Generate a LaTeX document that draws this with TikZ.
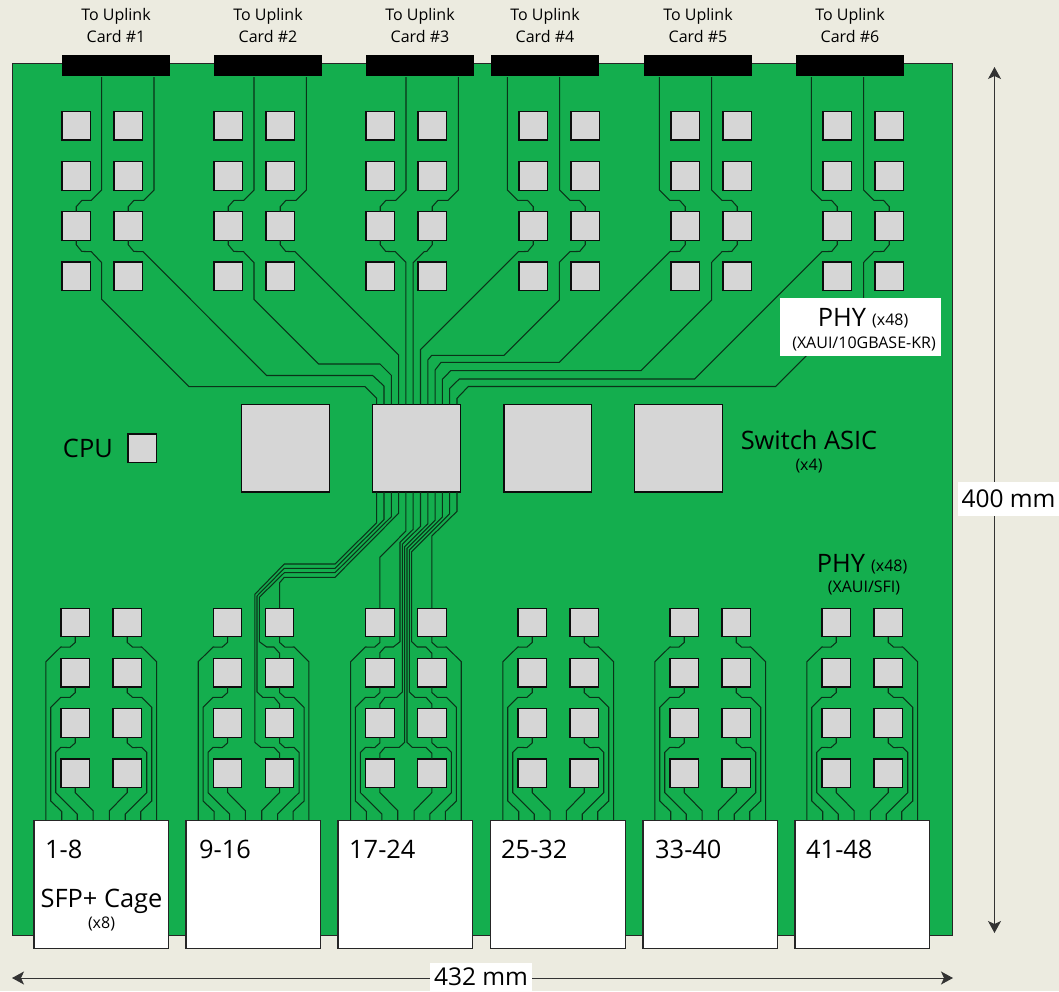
\documentclass[tikz,border=0pt]{standalone}
\usepackage{xcolor}
\usepackage{fontspec}
\setmainfont{Open Sans}
\usetikzlibrary{arrows.meta, positioning}
\definecolor{pagebg}{HTML}{ECEBE0}
\definecolor{pcbgreen}{HTML}{14AE4E}
\definecolor{chipgrey}{HTML}{D6D6D6}
\definecolor{tracedark}{HTML}{0A3319}
\tikzset{
    board/.style={draw=black!85, line width=1.2pt, fill=pcbgreen, anchor=north west, inner sep=0pt,
        minimum width=940pt, minimum height=872pt},
    phy chip/.style={draw=black!95, line width=1.35pt, fill=chipgrey, anchor=north west, inner sep=0pt,
        outer sep=0pt, minimum width=28.5pt, minimum height=28.5pt},
    asic chip/.style={phy chip, minimum width=87.5pt, minimum height=87.5pt},
    uplink bar/.style={fill=black, anchor=north west, inner sep=0pt, outer sep=0pt,
        minimum width=108pt, minimum height=21pt},
    cage/.style={draw=black!85, line width=1.2pt, fill=white, anchor=north west, inner sep=0pt,
        outer sep=0pt, minimum width=134.8pt, minimum height=127.6pt},
    trace/.style={draw=tracedark, line width=1.05pt},
    big text/.style={font=\fontsize{25.4}{30}\selectfont, inner sep=0pt},
    card text/.style={font=\fontsize{16}{22}\selectfont, align=center, inner sep=0pt},
    small text/.style={font=\fontsize{16}{19}\selectfont, inner sep=0pt},
    dim arrow/.style={draw=black!80, line width=1pt, {Stealth[length=12pt,width=13pt,inset=3pt]}-{Stealth[length=12pt,width=13pt,inset=3pt]}},
    dim label/.style={font=\fontsize{24.5}{28}\selectfont, fill=white, inner xsep=0pt, inner ysep=0pt},
}
\begin{document}
\begin{tikzpicture}[x=1pt, y=-1pt]
    \useasboundingbox (0,0) rectangle (1059,991);
    \fill[pagebg] (0,0) rectangle (1059,991);
    \node[board] (board) at (12,63) {};

    \foreach \grp/\barx/\gx in {1/62/62, 2/214/214, 3/366/366, 4/491/519, 5/644/671, 6/796/823}{
        \node[uplink bar] (up\grp) at (\barx,55) {};
        \node[card text] (uplab\grp) at (\barx+54,25) {To Uplink\\Card \#\grp};
        \foreach \col/\dx in {a/0, b/52}{
            \foreach \row/\ry in {1/111.5, 2/161.7, 3/211.7, 4/262}{
                \node[phy chip] (phyu\grp\col\row) at (\gx+\dx,\ry) {};
            }
        }
    }
    \foreach \grp/\gx/\cagex/\lab/\labx in {1/61/34/1-8/45, 2/213.3/186/9-16/199, 3/365.7/338/17-24/349,
        4/518/490.5/25-32/501, 5/670/643/33-40/655, 6/822/795/41-48/806}{
        \foreach \col/\dx in {a/0, b/52}{
            \foreach \row/\ry in {1/608.3, 2/658.5, 3/708.8, 4/759}{
                \node[phy chip] (phyd\grp\col\row) at (\gx+\dx,\ry) {};
            }
        }
        \node[cage] (cage\grp) at (\cagex,820.7) {};
        \node[big text, anchor=west] (cagelab\grp) at (\labx,849) {\lab};
    }
    \node[asic chip] (asica) at (241.7,404.5) {};
    \node[asic chip] (asicb) at (372.7,404.5) {};
    \node[asic chip] (asicc) at (504,404.5) {};
    \node[asic chip] (asicd) at (634.7,404.5) {};
    \node[phy chip] (cpu) at (128,434) {};
    \node[big text, left=15pt of cpu] (cpulab) {CPU};

    \foreach \i in {1,...,12}{
        \path (asicb.north west) ++({\i*7.3-3.3},0) coordinate (n\i);
        \path (asicb.south west) ++({\i*7.3-3.3},0) coordinate (s\i);
    }

    \foreach \grp/\gx/\off/\jog in {1/62/39.7/1, 2/214/40/1, 3/366/40/1, 4/519/16.3/-1, 5/671/15.3/-1, 6/823/15.3/-1}{
        \foreach \col/\dx in {a/0, b/52}{
            \draw[trace] (up\grp.south west) ++({\off+\dx*1.006},1) -- ++(0,113) -- ++({-\jog*10.3},10.3)
                -- ({\gx+\dx+14.25+\jog*5.7},200.3) -- ++({-\jog*5.7},6.4) -- (phyu\grp\col3.north);
        }
    }

    \draw[trace] (phyu1a3.south) -- ++(0,4.5) -- ++(5.5,6.7) -- (91.3,251.7) -- (101.7,262.7) -- (101.7,299.3)
        -- (189,386.7) -- (365,386.7) -- (376.7,398.3) -- (n1);
    \draw[trace] (phyu1b3.south) -- ++(0,4.5) -- ++(5.5,6.7) -- (143,251.7) -- (266.7,375.5) -- (372.7,375.5)
        -- (384,386) -- (n2);
    \draw[trace] (phyu2a3.south) -- ++(0,4.5) -- ++(5.5,6.7) -- (243.5,251.7) -- (254,262.7) -- (254,299.3)
        -- (318.7,364) -- (380,364) -- (391.3,375.3) -- (n3);
    \draw[trace] (phyu2b3.south) -- ++(0,4.5) -- ++(5.5,6.7) -- (295,251.7) -- (398.6,355) -- (n4);
    \draw[trace] (phyu3a3.south) -- ++(0,4.5) -- ++(5.5,6.7) -- (395.3,251.7) -- (405.9,262.3) -- (n5);
    \draw[trace] (phyu3b3.south) -- ++(0,4.5) -- ++(-5.5,6.7) -- (424.2,251.7) -- (413.2,262.7) -- (n6);
    \draw[trace] (phyu4a3.south) -- ++(0,4.5) -- ++(-5.5,6.7) -- (518.3,251.7) -- (420.5,349.5) -- (n7);
    \draw[trace] (phyu4b3.south) -- ++(0,4.5) -- ++(-5.5,6.7) -- (570,251.7) -- (559.3,262.3) -- (559.3,300)
        -- (504,355.3) -- (431.7,355.3) -- (427.8,360) -- (n8);
    \draw[trace] (phyu5a3.south) -- ++(0,4.5) -- ++(-5.5,6.7) -- (670,251.7) -- (559.3,362.4) -- (441,362.4)
        -- (435.1,370) -- (n9);
    \draw[trace] (phyu5b3.south) -- ++(0,4.5) -- ++(-5.5,6.7) -- (722,251.7) -- (711.7,262.3) -- (711.7,300)
        -- (641,370.7) -- (450.7,370.7) -- (442.4,379.3) -- (n10);
    \draw[trace] (phyu6a3.south) -- ++(0,4.5) -- ++(-5.5,6.7) -- (822,251.7) -- (694.7,379) -- (459.3,379)
        -- (449.7,388.3) -- (n11);
    \draw[trace] (phyu6b3.south) -- ++(0,4.5) -- ++(-5.5,6.7) -- (874,251.7) -- (863.7,262.3) -- (863.7,298.3)
        -- (775.7,386.5) -- (468.3,386.5) -- (457,398.3) -- (n12);

    \foreach \grp/\gx in {1/61, 2/213.3, 3/365.7, 4/518, 5/670, 6/822}{
        \pgfmathsetmacro\mid{\gx+40.25}
        \foreach \col/\side in {a/-1, b/1}{
            \draw[trace] (phyd\grp\col1.south) -- ++(0,5.6) -- ++({\side*5.3},4.7) -- ({\mid+\side*40.5},647)
                -- ({\mid+\side*55.3},661.7) -- ({\mid+\side*55.3},0 |- cage\grp.north);
            \draw[trace] (phyd\grp\col2.south) -- ++(0,5.6) -- ++({\side*5.3},4.7) -- ({\mid+\side*40.5},697.3)
                -- ({\mid+\side*50.5},707.3) -- ({\mid+\side*50.5},801) -- ({\mid+\side*39.5},811.5)
                -- ({\mid+\side*39.5},0 |- cage\grp.north);
            \draw[trace] (phyd\grp\col3.south) -- ++(0,5.6) -- ++({\side*5.3},4.7) -- ({\mid+\side*40.5},747.3)
                -- ({\mid+\side*45.5},752.3) -- ({\mid+\side*45.5},792.7) -- ({\mid+\side*24},814)
                -- ({\mid+\side*24},0 |- cage\grp.north);
            \draw[trace] (phyd\grp\col4.south) -- ++(0,5) -- ({\mid+\side*8.2},810.7)
                -- ({\mid+\side*8.2},0 |- cage\grp.north);
        }
    }

    \draw[trace] (s1) -- (376.7,522.7) -- (335,564) -- (284.3,564) -- (254.8,594.3) -- (254.8,742.3) -- (260.7,747.3)
        -- (274,747.3) -- (279.6,753.3) -- (phyd2b4.north);
    \draw[trace] (s2) -- (384,519.6) -- (335,568.3) -- (284.3,568.3) -- (257,596) -- (257,692) -- (262.7,697.3)
        -- (274,697.3) -- (279.6,704) -- (phyd2b3.north);
    \draw[trace] (s3) -- (391.3,516.7) -- (335,572.7) -- (284.3,572.7) -- (259.3,597.3) -- (259.3,641.7) -- (266.7,647)
        -- (274,647) -- (279.6,653.3) -- (phyd2b2.north);
    \draw[trace] (s4) -- (398.6,513.3) -- (335,577.3) -- (284.3,577.3) -- (279.6,582.7) -- (phyd2b1.north);
    \draw[trace] (s5) -- (405.9,531) -- (379.9,557.3) -- (phyd3a1.north);
    \draw[trace] (s6) -- (413.2,529.3) -- (400,542.3) -- (400,641.7) -- (393.3,647) -- (385,647) -- (379.9,652.7)
        -- (phyd3a2.north);
    \draw[trace] (s7) -- (420.5,526.3) -- (402.3,544.3) -- (402.3,692) -- (396.7,697.3) -- (385,697.3) -- (379.9,704)
        -- (phyd3a3.north);
    \draw[trace] (s8) -- (427.8,523.7) -- (404.7,546.7) -- (404.7,742.3) -- (399.3,747.3) -- (385,747.3) -- (379.9,753.3)
        -- (phyd3a4.north);
    \draw[trace] (s9) -- (435.1,520.3) -- (407,548.3) -- (407,742.3) -- (412.3,747.3) -- (426,747.3) -- (431.9,753.3)
        -- (phyd3b4.north);
    \draw[trace] (s10) -- (442.4,517) -- (409.3,550) -- (409.3,692) -- (415,697.3) -- (426,697.3) -- (431.9,704)
        -- (phyd3b3.north);
    \draw[trace] (s11) -- (449.7,513.7) -- (411.7,551.7) -- (411.7,641.7) -- (417.3,647) -- (426,647) -- (431.9,653.3)
        -- (phyd3b2.north);
    \draw[trace] (s12) -- (457,511.3) -- (431.9,536) -- (phyd3b1.north);

    \node[fill=white, minimum width=161pt, minimum height=58pt, inner sep=0pt] (phyuplab) at (860.5,327) {};
    \node[big text, anchor=base] (phyuptext) at (842,326) {PHY};
    \node[small text, anchor=base west] (phyupcount) at (872,325) {(x48)};
    \node[small text, anchor=base] (phyupbus) at (864,348) {(XAUI/10GBASE-KR)};

    \node[big text, anchor=base] (phydntext) at (841,572) {PHY};
    \node[small text, anchor=base west] (phydncount) at (871,571) {(x48)};
    \node[small text, anchor=base] (phydnbus) at (864,592) {(XAUI/SFI)};

    \node[big text, anchor=base] (asiclab) at (809,449) {Switch ASIC};
    \node[small text, anchor=base] (asiccount) at (809,470) {(x4)};

    \node[big text, anchor=base] (sfplab) at (101.5,907) {SFP+ Cage};
    \node[small text, anchor=base] (sfpcount) at (101.5,928) {(x8)};

    \coordinate (dimt) at (994.5,67);
    \coordinate (dimb) at (994.5,933);
    \coordinate (diml) at (12,978);
    \coordinate (dimr) at (953,978);
    \draw[dim arrow] (dimt) -- (dimb);
    \draw[dim arrow] (diml) -- (dimr);
    \node[dim label, minimum width=101pt, minimum height=34pt] (dimh) at (1008.5,499) {400 mm};
    \node[dim label, minimum width=102pt, minimum height=28pt] (dimw) at (481,977) {432 mm};
\end{tikzpicture}
\end{document}
